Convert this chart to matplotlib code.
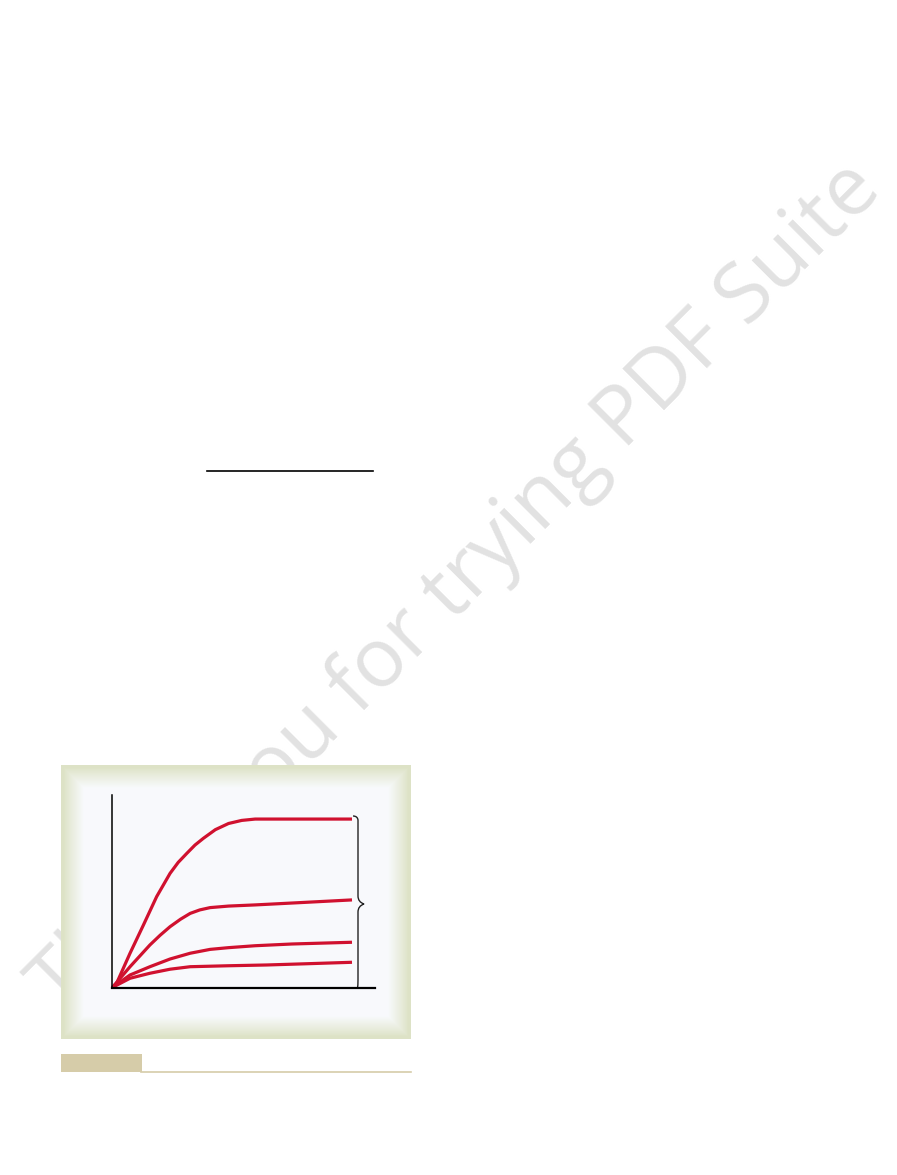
import numpy as np
import matplotlib.pyplot as plt
from matplotlib.patches import Rectangle, PathPatch
from matplotlib.path import Path

# Curves (arbitrary units, x 0..10, y 0..10)
x_top = [0, 0.18, 0.74, 1.30, 1.85, 2.41, 2.75, 3.11, 3.45, 3.80, 4.30, 4.85, 5.40, 5.96, 10.0]
y_top = [0, 0.22, 1.78, 3.25, 4.72, 5.93, 6.50, 6.97, 7.40, 7.75, 8.20, 8.52, 8.68, 8.75, 8.75]

x_mid = [0, 0.74, 1.57, 2.00, 2.41, 2.85, 3.25, 3.65, 4.08, 4.85, 5.96, 7.84, 10.0]
y_mid = [0, 1.08, 2.21, 2.72, 3.16, 3.55, 3.85, 4.03, 4.15, 4.23, 4.29, 4.41, 4.55]

x_low = [0, 0.74, 1.57, 2.41, 3.25, 4.08, 4.85, 5.96, 7.50, 10.0]
y_low = [0, 0.65, 1.08, 1.48, 1.78, 1.98, 2.07, 2.17, 2.26, 2.35]

x_base = [0, 0.74, 1.57, 2.41, 3.25, 4.85, 6.45, 8.00, 10.0]
y_base = [0, 0.48, 0.74, 0.95, 1.08, 1.13, 1.17, 1.23, 1.31]

curves = [(x_top, y_top), (x_mid, y_mid), (x_low, y_low), (x_base, y_base)]
red = "#d0112f"

W, H = 897, 1175
fig = plt.figure(figsize=(W / 100, H / 100), dpi=100)
fig.patch.set_facecolor("white")

# page layer in pixel coordinates
bg = fig.add_axes([0, 0, 1, 1])
bg.set_xlim(0, W)
bg.set_ylim(H, 0)
bg.axis("off")

# watermark (sits under the panel)
bg.text(472, 603, "Thank you for trying PDF Suite", family="Open Sans", fontsize=59.5,
        color="#e2e2e2", rotation=45, rotation_mode="anchor", ha="center", va="baseline", zorder=1)

# rule near the top
bg.plot([207, 373], [471, 471], color="black", lw=1.2, zorder=2)

# panel with soft green edge
px0, px1, py0, py1 = 61, 411, 765, 1039
pw, ph = px1 - px0, py1 - py0
xx, yy = np.meshgrid(np.arange(pw) + 0.5, np.arange(ph) + 0.5)
d = np.minimum(np.minimum(xx, pw - xx), np.minimum(yy, ph - yy))
t = np.clip((d - 3) / 20, 0, 1) ** 0.9
edge = np.array([0.87, 0.89, 0.78])
inner = np.array([0.973, 0.98, 0.99])
img = edge[None, None, :] * (1 - t[..., None]) + inner[None, None, :] * t[..., None]
bg.imshow(img, extent=(px0, px1, py1, py0), aspect="auto", zorder=3, interpolation="bilinear")
bg.set_xlim(0, W)
bg.set_ylim(H, 0)

# caption tab and rule under the panel
bg.add_patch(Rectangle((61, 1054), 80.7, 17.7, facecolor="#d6cca9", edgecolor="none", zorder=3))
bg.plot([141, 411], [1071.5, 1071.5], color="#d6cca9", lw=1.2, zorder=3)

# brace on the right
verts = [(353, 816), (357.5, 816), (358, 820), (358, 828),
         (358, 896), (358, 902), (364, 904),
         (358, 906), (358, 912), (358, 980),
         (358, 986), (357.5, 988), (353, 988)]
codes = [Path.MOVETO, Path.CURVE3, Path.CURVE3, Path.LINETO,
         Path.LINETO, Path.CURVE3, Path.CURVE3,
         Path.CURVE3, Path.CURVE3, Path.LINETO,
         Path.CURVE3, Path.CURVE3, Path.LINETO]
bg.add_patch(PathPatch(Path(verts, codes), facecolor="none", edgecolor="#222222", lw=1.0, zorder=4))

# chart axes
left, right = 112.3 / W, 375 / W
bottom, top = (H - 987.5) / H, (H - 795) / H
ax = fig.add_axes([left, bottom, right - left, top - bottom])
ax.set_facecolor("none")
ax.set_xlim(0, 10.96)
ax.set_ylim(0, 10)
for xs, ys in curves:
    ax.plot(xs, ys, color=red, lw=2.3, solid_capstyle="butt", solid_joinstyle="round", clip_on=False)
ax.spines["top"].set_visible(False)
ax.spines["right"].set_visible(False)
ax.spines["left"].set_linewidth(1.1)
ax.spines["bottom"].set_linewidth(1.6)
ax.set_xticks([])
ax.set_yticks([])

fig.savefig("out.png", dpi=100)
plt.close()
